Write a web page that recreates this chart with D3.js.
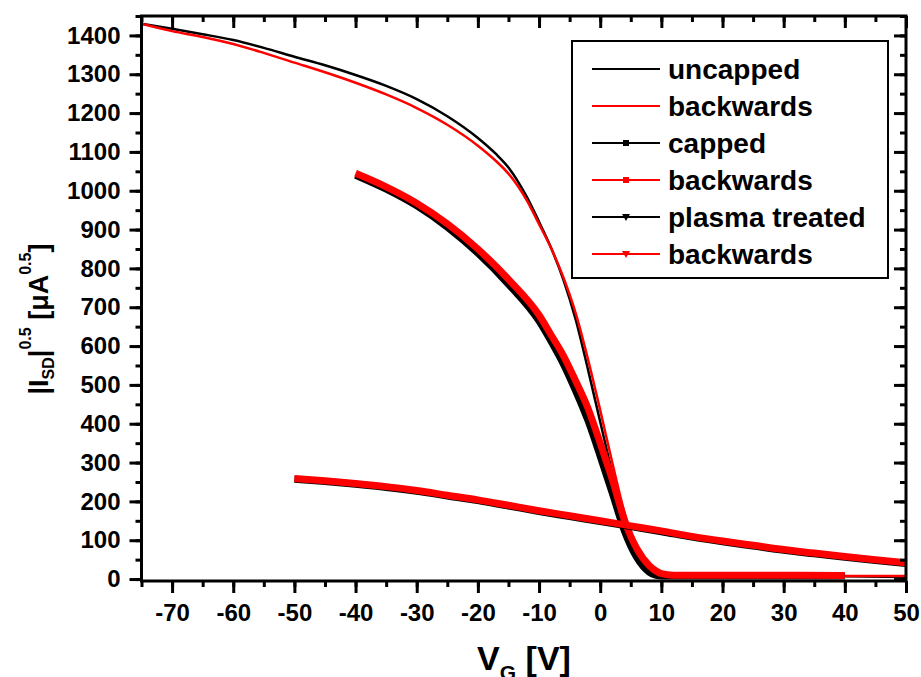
<!DOCTYPE html>
<html>
<head>
<meta charset="utf-8">
<script src="https://cdnjs.cloudflare.com/ajax/libs/d3/7.8.5/d3.min.js"></script>
<style>
body { margin: 0; background: #fff; }
svg { display: block; font-family: "Liberation Sans", Arial, sans-serif; font-weight: bold; }
</style>
</head>
<body>
<script>
// gate voltage (V) and sqrt of drain current
var vgUncapped = [-75, -70, -65, -60, -55, -50, -45, -40, -35, -30, -25, -20, -17, -15, -12, -10, -8, -6, -4, -2, 0, 2, 4, 6, 8, 10, 15, 20, 30, 40, 50];
var uncappedFwd = [1430, 1417, 1403, 1388, 1368, 1345, 1323, 1298, 1270, 1236, 1192, 1136, 1094, 1060, 984, 920, 852, 770, 668, 540, 405, 272, 155, 72, 26, 12, 8, 8, 8, 7, 5];
var uncappedBwd = [1430, 1411, 1396, 1378, 1355, 1330, 1305, 1278, 1248, 1213, 1170, 1116, 1076, 1044, 975, 914, 851, 776, 684, 566, 435, 298, 170, 80, 30, 14, 10, 9, 9, 8, 8];

var vgCapped = [-40, -35, -30, -25, -20, -15, -10, -8, -6, -4, -2, 0, 2, 4, 6, 8, 9, 10, 12, 20, 30, 40];
var cappedFwd = [1040, 1004, 961, 906, 839, 759, 664, 611, 553, 484, 408, 316, 220, 122, 55, 18, 10, 8, 8, 8, 8, 8];
var cappedBwd = [1045, 1010, 968, 915, 850, 772, 680, 628, 575, 510, 440, 350, 255, 150, 78, 35, 22, 14, 10, 10, 10, 9];

var vgPlasma = [-50, -45, -40, -35, -30, -25, -20, -15, -10, -5, 0, 5, 10, 15, 20, 25, 30, 35, 40, 45, 50];
var plasmaFwd = [257, 251, 244, 236, 226, 214, 202, 188, 174, 161, 148, 135, 122, 108, 96, 85, 74, 65, 56, 48, 40];
var plasmaBwd = [259, 253, 246, 238, 228, 216, 204, 190, 176, 163, 150, 137, 124, 110, 98, 87, 76, 67, 58, 50, 42];

var legendLabels = ["uncapped", "backwards", "capped", "backwards", "plasma treated", "backwards"];
var xTicks = [-70, -60, -50, -40, -30, -20, -10, 0, 10, 20, 30, 40, 50];
var yTicks = [0, 100, 200, 300, 400, 500, 600, 700, 800, 900, 1000, 1100, 1200, 1300, 1400];

var width = 921,
    height = 677;
var plotLeft = 141.5, plotRight = 906, plotTop = 16, plotBottom = 581;

var svg = d3.select("body")
    .append("svg")
    .attr("width", width)
    .attr("height", height);

var x = d3.scaleLinear().domain([-75, 50]).range([plotLeft, plotRight]);
var y = d3.scaleLinear().domain([-5, 1450]).range([plotBottom, plotTop]);

var series = [
    { xs: vgUncapped, ys: uncappedFwd, color: "#000", w: 2.5, marker: null },
    { xs: vgUncapped, ys: uncappedBwd, color: "#f00", w: 2.5, marker: null },
    { xs: vgCapped, ys: cappedFwd, color: "#000", w: 7, marker: "square" },
    { xs: vgCapped, ys: cappedBwd, color: "#f00", w: 7, marker: "square" },
    { xs: vgPlasma, ys: plasmaFwd, color: "#000", w: 7, marker: "triangle" },
    { xs: vgPlasma, ys: plasmaBwd, color: "#f00", w: 7, marker: "triangle" }
];

svg.append("clipPath").attr("id", "plot")
    .append("rect")
    .attr("x", plotLeft).attr("y", plotTop)
    .attr("width", plotRight - plotLeft).attr("height", plotBottom - plotTop);

var line = d3.line()
    .x(function(d) { return x(d[0]); })
    .y(function(d) { return y(d[1]); })
    .curve(d3.curveMonotoneX);

var g = svg.append("g").attr("clip-path", "url(#plot)");

g.selectAll("path")
    .data(series)
    .enter()
    .append("path")
    .attr("fill", "none")
    .attr("stroke", function(s) { return s.color; })
    .attr("stroke-width", function(s) { return s.w; })
    .attr("d", function(s) { return line(d3.zip(s.xs, s.ys)); });

// axes, ticks on all four sides
var plain = function(d) { return String(d); };

function styleAxis(sel) {
    sel.select(".domain").remove();
    sel.selectAll(".tick line").attr("stroke", "#000").attr("stroke-width", 3);
    sel.selectAll(".tick text")
        .attr("fill", "#000")
        .style("font-size", "24px")
        .style("font-weight", "bold")
        .style("font-family", "'Liberation Sans', Arial, sans-serif");
}

svg.append("g").attr("transform", "translate(0," + plotBottom + ")")
    .call(d3.axisBottom(x).tickValues(d3.range(-75, 51, 5)).tickSize(6).tickFormat(""))
    .call(styleAxis);
svg.append("g").attr("transform", "translate(0," + plotBottom + ")")
    .call(d3.axisBottom(x).tickValues(xTicks).tickSize(12).tickPadding(11).tickFormat(plain))
    .call(styleAxis);

svg.append("g").attr("transform", "translate(0," + plotTop + ")")
    .call(d3.axisTop(x).tickValues(d3.range(-75, 51, 5)).tickSize(-6).tickFormat(""))
    .call(styleAxis);
svg.append("g").attr("transform", "translate(0," + plotTop + ")")
    .call(d3.axisTop(x).tickValues(xTicks).tickSize(-12).tickFormat(""))
    .call(styleAxis);

svg.append("g").attr("transform", "translate(" + plotLeft + ",0)")
    .call(d3.axisLeft(y).tickValues(d3.range(0, 1451, 50)).tickSize(6).tickFormat(""))
    .call(styleAxis);
svg.append("g").attr("transform", "translate(" + plotLeft + ",0)")
    .call(d3.axisLeft(y).tickValues(yTicks).tickSize(12).tickPadding(9).tickFormat(plain))
    .call(styleAxis);

svg.append("g").attr("transform", "translate(" + plotRight + ",0)")
    .call(d3.axisRight(y).tickValues(d3.range(0, 1451, 50)).tickSize(-6).tickFormat(""))
    .call(styleAxis);
svg.append("g").attr("transform", "translate(" + plotRight + ",0)")
    .call(d3.axisRight(y).tickValues(yTicks).tickSize(-12).tickFormat(""))
    .call(styleAxis);

svg.append("rect")
    .attr("x", plotLeft).attr("y", plotTop)
    .attr("width", plotRight - plotLeft).attr("height", plotBottom - plotTop)
    .attr("fill", "none")
    .attr("stroke", "#000")
    .attr("stroke-width", 3);

// axis titles
var xt = svg.append("text")
    .attr("x", 524).attr("y", 670)
    .attr("text-anchor", "middle")
    .style("font-size", "34px");
xt.append("tspan").text("V");
xt.append("tspan").attr("dy", 10).style("font-size", "21px").text("G");
xt.append("tspan").attr("dy", -10).text(" [V]");

var yt = svg.append("text")
    .attr("transform", "translate(48,319) rotate(-90)")
    .attr("text-anchor", "middle")
    .style("font-size", "27px");
yt.append("tspan").text("|I");
yt.append("tspan").attr("dy", 6).style("font-size", "16px").text("SD");
yt.append("tspan").attr("dy", -6).text("|");
yt.append("tspan").attr("dy", -17).style("font-size", "16px").text("0.5");
yt.append("tspan").attr("dy", 17).text(" [\u03bcA");
yt.append("tspan").attr("dy", -17).style("font-size", "16px").text("0.5");
yt.append("tspan").attr("dy", 17).text("]");

// legend
var legend = svg.append("g");
legend.append("rect")
    .attr("x", 572).attr("y", 41)
    .attr("width", 316).attr("height", 237)
    .attr("fill", "#fff")
    .attr("stroke", "#000")
    .attr("stroke-width", 2);

var rows = legend.selectAll("g.row")
    .data(series)
    .enter()
    .append("g")
    .attr("transform", function(s, i) { return "translate(0," + (79 + 37 * i) + ")"; });

rows.append("line")
    .attr("x1", 592).attr("x2", 660)
    .attr("y1", -10).attr("y2", -10)
    .attr("stroke", function(s) { return s.color; })
    .attr("stroke-width", 2);

rows.filter(function(s) { return s.marker === "square"; })
    .append("rect")
    .attr("x", 623).attr("y", -13)
    .attr("width", 6).attr("height", 6)
    .attr("fill", function(s) { return s.color; });

rows.filter(function(s) { return s.marker === "triangle"; })
    .append("path")
    .attr("d", "M622,-13 L630,-13 L626,-6 Z")
    .attr("fill", function(s) { return s.color; });

rows.append("text")
    .attr("x", 668).attr("y", 0)
    .style("font-size", "28px")
    .text(function(s, i) { return legendLabels[i]; });
</script>
</body>
</html>
